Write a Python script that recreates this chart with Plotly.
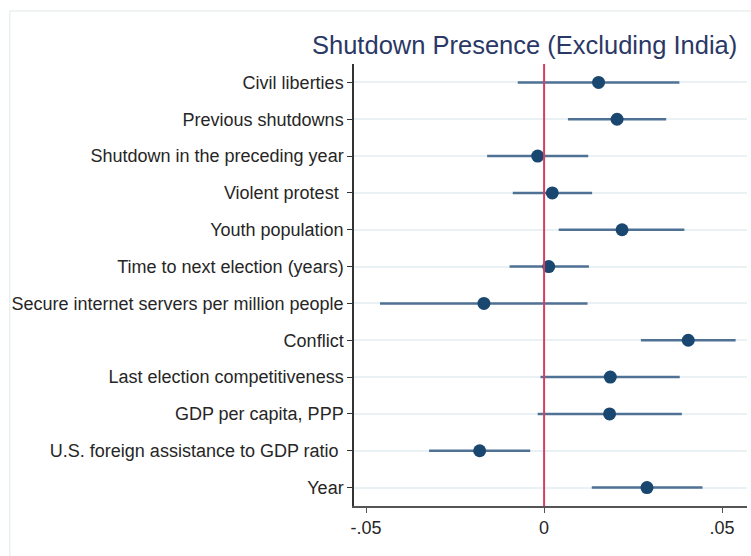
import plotly.graph_objects as go

variables = [
    "Civil liberties",
    "Previous shutdowns",
    "Shutdown in the preceding year",
    "Violent protest ",
    "Youth population",
    "Time to next election (years)",
    "Secure internet servers per million people",
    "Conflict",
    "Last election competitiveness",
    "GDP per capita, PPP",
    "U.S. foreign assistance to GDP ratio ",
    "Year",
]
estimate = [0.0153, 0.0205, -0.0018, 0.0023, 0.0219, 0.0013, -0.0169, 0.0405, 0.0186, 0.0184, -0.0181, 0.0289]
ci_low = [-0.0074, 0.0067, -0.0160, -0.0088, 0.0041, -0.0097, -0.0461, 0.0272, -0.0010, -0.0018, -0.0323, 0.0134]
ci_high = [0.0380, 0.0343, 0.0124, 0.0135, 0.0394, 0.0126, 0.0122, 0.0538, 0.0381, 0.0387, -0.0039, 0.0445]
x_ticks = [-0.05, 0, 0.05]
x_ticklabels = ["-.05", "0", ".05"]
title_text = "Shutdown Presence (Excluding India)"

rows = list(range(1, len(variables) + 1))

fig = go.Figure()
fig.add_trace(go.Scatter(
    x=estimate,
    y=rows,
    mode="markers",
    marker=dict(size=13, color="#1a476f"),
    error_x=dict(
        type="data",
        symmetric=False,
        array=[h - e for h, e in zip(ci_high, estimate)],
        arrayminus=[e - l for e, l in zip(estimate, ci_low)],
        color="#4f7194",
        thickness=2.5,
        width=0,
    ),
    showlegend=False,
    hoverinfo="skip",
))

fig.add_shape(type="line", xref="x", yref="paper", x0=0, x1=0, y0=0, y1=1,
              line=dict(color="#d33f62", width=2), layer="above")

# faint outer frame
fig.add_shape(type="path", xref="paper", yref="paper",
              path="M -0.876 -0.2 L -0.876 1.120 L 1.1 1.120",
              line=dict(color="#eaf0f0", width=1.5))

fig.add_annotation(text=title_text, xref="paper", yref="paper",
                   x=0.435, y=1.043, xanchor="center", yanchor="middle",
                   showarrow=False,
                   font=dict(family="Liberation Sans", size=25.5, color="#2b3866"))

fig.update_layout(
    width=751, height=556,
    margin=dict(l=354, r=4, t=64, b=50, autoexpand=False),
    paper_bgcolor="white",
    plot_bgcolor="white",
    font=dict(family="Liberation Sans", size=18, color="#262626"),
    xaxis=dict(
        range=[-0.0534, 0.057],
        tickvals=x_ticks,
        ticktext=x_ticklabels,
        showgrid=False,
        zeroline=False,
        showline=True,
        linecolor="#555555",
        linewidth=1.5,
        ticks="outside",
        ticklen=5,
        tickcolor="#555555",
        tickfont=dict(size=18, color="#262626"),
        automargin=False,
    ),
    yaxis=dict(
        range=[12.5, 0.5],
        tickvals=rows,
        ticktext=variables,
        showgrid=True,
        gridcolor="#e9f1f4",
        gridwidth=1.5,
        zeroline=False,
        showline=True,
        linecolor="#333333",
        linewidth=1.5,
        ticks="outside",
        ticklen=5,
        tickcolor="#333333",
        tickfont=dict(size=18, color="#262626"),
        automargin=False,
    ),
)

fig.write_html("out.html", config={"displayModeBar": False},
               post_script="document.body.style.margin='0';")
